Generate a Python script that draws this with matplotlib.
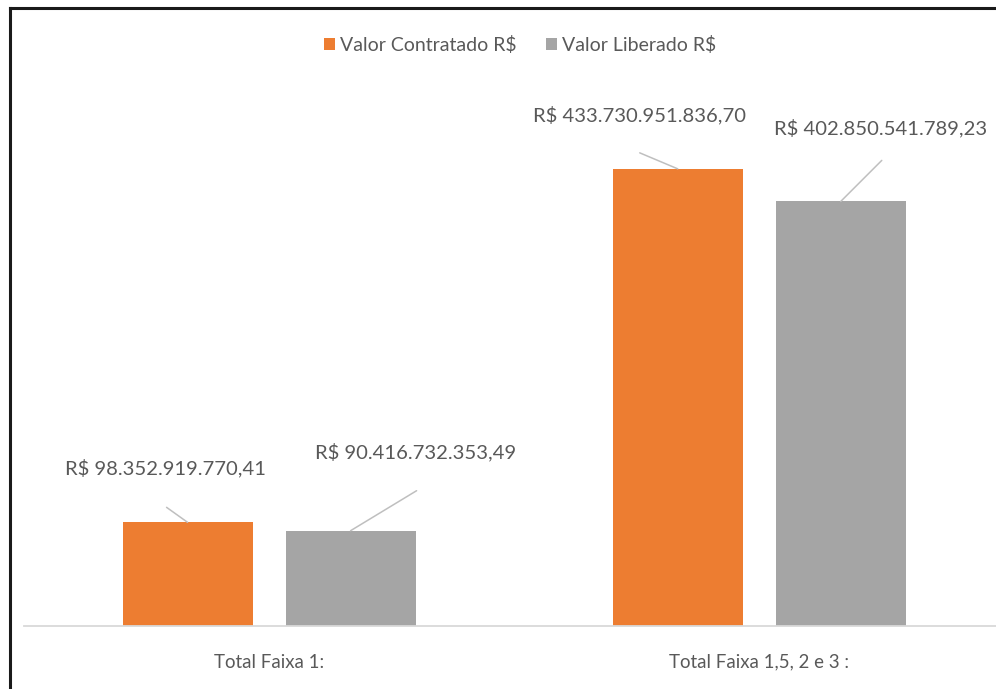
import matplotlib
matplotlib.use('Agg')
import matplotlib.pyplot as plt
from matplotlib.lines import Line2D
import numpy as np

categories = ['Total Faixa 1:', 'Total Faixa 1,5, 2 e 3 :']
series_names = ['Valor Contratado R$', 'Valor Liberado R$']
contratado = [98352919770.41, 433730951836.70]
liberado = [90416732353.49, 402850541789.23]
labels_contratado = ['R$ 98.352.919.770,41', 'R$ 433.730.951.836,70']
labels_liberado = ['R$ 90.416.732.353,49', 'R$ 402.850.541.789,23']

ORANGE = '#ED7D31'
GRAY = '#A5A5A5'
TEXT = '#595959'

plt.rcParams['font.family'] = ['Lato', 'DejaVu Sans']

W, H = 996, 689
fig = plt.figure(figsize=(W / 100, H / 100), dpi=100)
ax = fig.add_axes([24 / W, 63 / H, (W - 24) / W, 527 / H])

x = np.arange(len(categories))
bw = 0.265
off = 0.1663
vals_c = np.array(contratado) / 1e9
vals_l = np.array(liberado) / 1e9
ax.bar(x - off, vals_c, bw, color=ORANGE, label=series_names[0], zorder=2)
ax.bar(x + off, vals_l, bw, color=GRAY, label=series_names[1], zorder=2)

ax.set_xlim(-0.5, 1.483)
ax.set_ylim(0, 500)
for s in ['top', 'left', 'right']:
    ax.spines[s].set_visible(False)
ax.spines['bottom'].set_color('#D9D9D9')
ax.spines['bottom'].set_linewidth(1.3)
ax.set_yticks([])
ax.set_xticks(x)
ax.set_xticklabels(categories, fontsize=13.4, color=TEXT)
ax.tick_params(axis='x', length=0, pad=20)

# data labels with leader lines (offsets in pixels from bar top)
label_style = [
    # (text offset, line start offset)
    [((-22, 54), (-21, 15)), ((-38, 54), (-38, 16))],
    [((65, 79), (66, 40)), ((40, 73), (41, 41))],
]
for si, (vals, labs, xs) in enumerate([(vals_c, labels_contratado, x - off),
                                       (vals_l, labels_liberado, x + off)]):
    for i in range(len(vals)):
        (tdx, tdy), (ldx, ldy) = label_style[si][i]
        ax.annotate('', xy=(xs[i], vals[i]), xytext=(ldx, ldy),
                    textcoords='offset pixels',
                    arrowprops=dict(arrowstyle='-', color='#BFBFBF', lw=1.1,
                                    shrinkA=0, shrinkB=0))
        ax.annotate(labs[i], xy=(xs[i], vals[i]), xytext=(tdx, tdy),
                    textcoords='offset pixels', ha='center', va='center',
                    fontsize=14.6, color=TEXT)

leg = fig.legend(loc='center', bbox_to_anchor=(520 / W, 1 - 45 / H), ncol=2,
                 frameon=False, fontsize=14, handlelength=0.6, handleheight=0.6,
                 handletextpad=0.25, columnspacing=1.5)
for t in leg.get_texts():
    t.set_color(TEXT)

# frame lines (left and top) of the embedded chart
fig.add_artist(Line2D([9.5 / W, 9.5 / W], [0, 1 - 7.5 / H], color='#1A1A1A', lw=2.2,
                      transform=fig.transFigure))
fig.add_artist(Line2D([9.5 / W, 1], [1 - 7.5 / H, 1 - 7.5 / H], color='#1A1A1A', lw=2.2,
                      transform=fig.transFigure))
# cut-off title above the frame
fig.text(506 / W, 1 + 4 / H, 'ç', ha='center', va='baseline', fontsize=14,
         fontweight='bold', color='black')

fig.savefig('out.png', dpi=100)
